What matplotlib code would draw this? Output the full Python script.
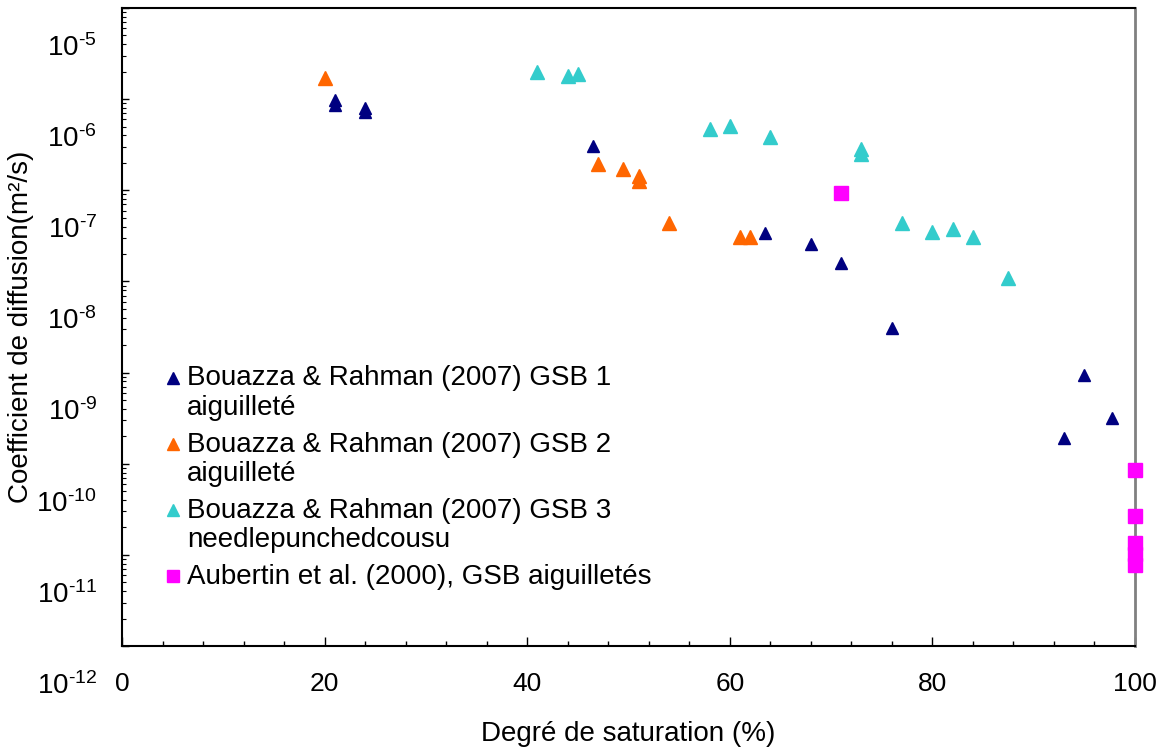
import matplotlib
matplotlib.use('Agg')
import matplotlib.pyplot as plt
from matplotlib.lines import Line2D
from matplotlib.ticker import MultipleLocator, LogLocator, NullFormatter
from matplotlib.transforms import ScaledTranslation

plt.rcParams['font.family'] = ['Liberation Sans', 'DejaVu Sans']
plt.rcParams['mathtext.fontset'] = 'custom'
plt.rcParams['mathtext.rm'] = 'Liberation Sans'

# data
gsb1_x = [21, 21, 24, 24, 46.5, 63.5, 68, 71, 76, 93, 95, 97.7]
gsb1_y = [9.9e-7, 8.6e-7, 7.9e-7, 7.3e-7, 3.1e-7, 3.4e-8, 2.6e-8, 1.6e-8,
          3.1e-9, 1.9e-10, 9.4e-10, 3.2e-10]

gsb2_x = [20, 47, 49.5, 51, 51, 54, 61, 62]
gsb2_y = [1.7e-6, 1.95e-7, 1.7e-7, 1.42e-7, 1.28e-7, 4.4e-8, 3.1e-8, 3.1e-8]

gsb3_x = [41, 44, 45, 58, 60, 64, 73, 73, 77, 80, 82, 84, 87.5]
gsb3_y = [2.0e-6, 1.8e-6, 1.9e-6, 4.7e-7, 5.1e-7, 3.85e-7, 2.87e-7, 2.47e-7,
          4.4e-8, 3.5e-8, 3.8e-8, 3.1e-8, 1.1e-8]

aub_x = [71, 100, 100, 100, 100, 100]
aub_y = [9.3e-8, 8.5e-11, 2.64e-11, 1.36e-11, 1.03e-11, 7.8e-12]

labels = ['Bouazza & Rahman (2007) GSB 1\naiguilleté',
          'Bouazza & Rahman (2007) GSB 2\naiguilleté',
          'Bouazza & Rahman (2007) GSB 3\nneedlepunchedcousu',
          'Aubertin et al. (2000), GSB aiguilletés']

y_exps = list(range(-12, -4))
x_ticks = [0, 20, 40, 60, 80, 100]

fig = plt.figure(figsize=(11.6, 7.47), dpi=100)
ax = fig.add_axes([122/1160, 1 - 646/747, 1013/1160, 638/747])

ax.set_yscale('log')
ax.set_xlim(0, 100)
ax.set_ylim(1e-12, 1e-5)

kw = dict(linestyle='none', clip_on=False, zorder=3)
ax.plot(gsb1_x, gsb1_y, marker='^', ms=9, color='#000080', **kw)
ax.plot(gsb2_x, gsb2_y, marker='^', ms=9.5, color='#FF6600', **kw)
ax.plot(gsb3_x, gsb3_y, marker='^', ms=9.5, color='#33CCCC', **kw)
ax.plot(aub_x, aub_y, marker='s', ms=10.5, color='#FF00FF', **kw)

# axes frame
for s in ['left', 'bottom', 'top']:
    ax.spines[s].set_linewidth(1.5)
    ax.spines[s].set_color('black')
ax.spines['right'].set_linewidth(2)
ax.spines['right'].set_color('#808080')

ax.set_xticks(x_ticks)
ax.set_xticklabels([str(v) for v in x_ticks])
ax.xaxis.set_minor_locator(MultipleLocator(4))
ax.tick_params(axis='x', which='major', direction='in', length=6.5, width=1,
               labelsize=19, pad=19)
ax.tick_params(axis='x', which='minor', direction='in', length=3.6, width=1)

ax.set_yticks([10.0**e for e in y_exps])
ax.set_yticklabels([r'$\mathregular{10^{\text{-}%d}}$' % -e for e in y_exps])
ax.yaxis.set_minor_locator(LogLocator(base=10, subs=range(2, 10), numticks=20))
ax.yaxis.set_minor_formatter(NullFormatter())
ax.tick_params(axis='y', which='major', direction='in', length=5, width=1,
               labelsize=20, pad=18)
ax.tick_params(axis='y', which='minor', direction='in', length=3, width=0.8)
ax.tick_params(top=False, right=False, which='both')

# y labels sit lower than their ticks in the original
shift = ScaledTranslation(0, -37/100, fig.dpi_scale_trans)
for lbl in ax.get_yticklabels():
    lbl.set_transform(lbl.get_transform() + shift)

ax.set_xlabel('Degré de saturation (%)', fontsize=20)
ax.xaxis.set_label_coords(0.4995, -0.117)
ax.set_ylabel('Coefficient de diffusion(m²/s)', fontsize=20)
ax.yaxis.set_label_coords(-0.0869, 0.5)

handles = [Line2D([], [], linestyle='none', marker='^', ms=8, color='#000080'),
           Line2D([], [], linestyle='none', marker='^', ms=8, color='#FF6600'),
           Line2D([], [], linestyle='none', marker='^', ms=8, color='#33CCCC'),
           Line2D([], [], linestyle='none', marker='s', ms=8, color='#FF00FF')]
leg = ax.legend(handles, labels, loc='upper left', bbox_to_anchor=(0.0424, 0.440),
                frameon=False, fontsize=20, handlelength=0.6, handletextpad=0.2,
                labelspacing=0.39, borderpad=0, borderaxespad=0, handleheight=1.3)
for t in leg.get_texts():
    t.set_linespacing(1.17)
# marker next to the first line of each label
for col in leg._legend_handle_box.get_children():
    for row in col.get_children():
        row.align = 'top'

fig.savefig('out.png', dpi=100, facecolor='white')
